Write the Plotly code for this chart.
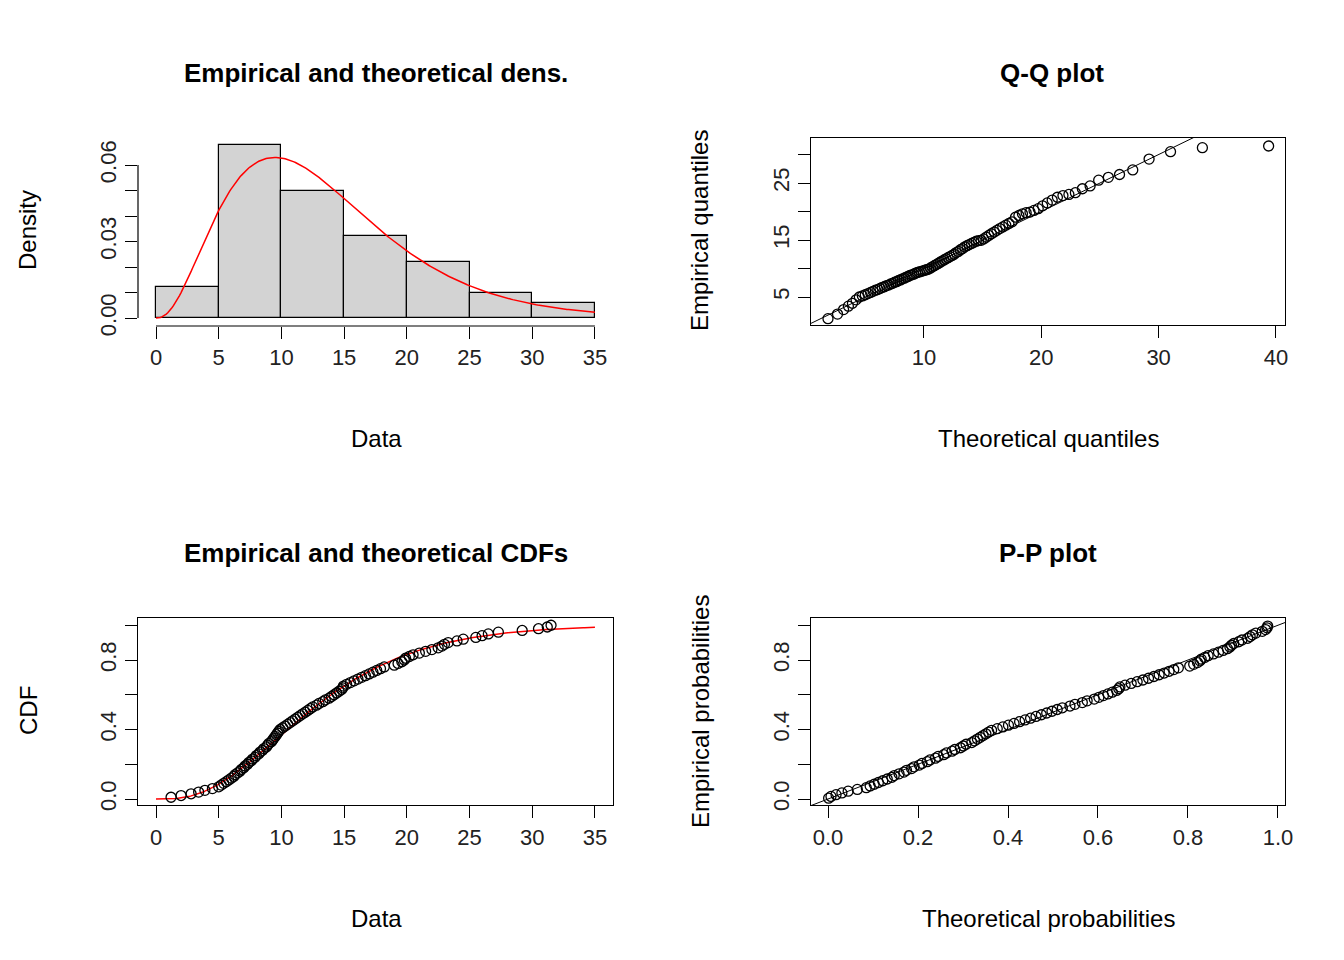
import math
import numpy as np
import plotly.graph_objects as go

# sorted sample (n = 100)
data = [1.2, 2.0, 2.8, 3.4, 3.9, 4.5,
        5.0, 5.2, 5.4, 5.6, 5.8, 6.0, 6.2, 6.3, 6.5, 6.7, 6.8, 7.0, 7.1, 7.3,
        7.4, 7.6, 7.7, 7.9, 8.0, 8.2, 8.3, 8.5, 8.6, 8.8, 8.9, 9.0, 9.2, 9.3,
        9.4, 9.5, 9.6, 9.7, 9.8, 9.9,
        10.1, 10.3, 10.5, 10.7, 10.9, 11.1, 11.3, 11.5, 11.7, 11.9, 12.1, 12.3,
        12.5, 12.8, 13.0, 13.3, 13.5, 13.8, 14.0, 14.2, 14.4, 14.6, 14.8, 14.9, 14.95,
        15.2, 15.5, 15.8, 16.1, 16.4, 16.7, 17.0, 17.3, 17.6, 17.9, 18.2, 19.0,
        19.3, 19.6, 19.8, 19.9,
        20.2, 20.5, 21.0, 21.5, 22.0, 22.5, 22.8, 23.0, 23.3, 24.0, 24.5,
        25.5, 26.0, 26.5, 27.3, 29.2,
        30.5, 31.2, 31.5]
bin_edges = [0, 5, 10, 15, 20, 25, 30, 35]
# fitted gamma parameters
shape = 3.4
scale = 3.95

def gpdf(x):
    if x <= 0:
        return 0.0
    return math.exp((shape - 1) * math.log(x) - x / scale - math.lgamma(shape) - shape * math.log(scale))

def gcdf(x):
    if x <= 0:
        return 0.0
    z = x / scale
    term = 1.0 / shape
    s = term
    k = 1
    while term > 1e-12 * s:
        term *= z / (shape + k)
        s += term
        k += 1
    return s * math.exp(-z + shape * math.log(z) - math.lgamma(shape))

def gq(p):
    lo, hi = 0.0, 200.0
    for _ in range(80):
        m = (lo + hi) / 2
        if gcdf(m) < p:
            lo = m
        else:
            hi = m
    return (lo + hi) / 2

n = len(data)
pp = [(i + 0.5) / n for i in range(n)]
counts, _ = np.histogram(data, bins=bin_edges)
dens = counts / (n * 5.0)
xs = np.linspace(0, 35, 300)

FONT = "Liberation Sans, Arial, sans-serif"
fig = go.Figure()
mk = dict(symbol="circle-open", size=10, color="black", line=dict(width=1.3))

# histogram
fig.add_trace(go.Bar(x=[(bin_edges[i] + bin_edges[i + 1]) / 2 for i in range(7)], y=dens,
                     width=5, marker=dict(color="#d3d3d3", line=dict(color="black", width=1.2)),
                     xaxis="x", yaxis="y"))
fig.add_trace(go.Scatter(x=xs, y=[gpdf(v) for v in xs], mode="lines",
                         line=dict(color="red", width=1.5), xaxis="x", yaxis="y"))
# QQ
tq = [gq(p) for p in pp]
fig.add_trace(go.Scatter(x=[0, 45], y=[0, 45], mode="lines", line=dict(color="black", width=1),
                         xaxis="x2", yaxis="y2"))
fig.add_trace(go.Scatter(x=tq, y=data, mode="markers", marker=mk, xaxis="x2", yaxis="y2"))
# CDF
fig.add_trace(go.Scatter(x=xs, y=[gcdf(v) for v in xs], mode="lines",
                         line=dict(color="red", width=1.5), xaxis="x3", yaxis="y3"))
fig.add_trace(go.Scatter(x=data, y=[(i + 1) / n for i in range(n)], mode="markers", marker=mk,
                         xaxis="x3", yaxis="y3"))
# PP
fig.add_trace(go.Scatter(x=[-0.1, 1.1], y=[-0.1, 1.1], mode="lines", line=dict(color="black", width=1),
                         xaxis="x4", yaxis="y4"))
fig.add_trace(go.Scatter(x=[gcdf(v) for v in data], y=pp, mode="markers", marker=mk,
                         xaxis="x4", yaxis="y4"))

W, H = 1344, 960
def dx(a, b):
    return [a / W, b / W]
def dy(top, bot):
    return [1 - bot / H, 1 - top / H]

ax = dict(ticks="outside", ticklen=12, tickwidth=1.2, tickcolor="black", showgrid=False,
          zeroline=False, automargin=False, tickfont=dict(size=22, color="#222"))
def xax(dom, rng, tv, tt, anchor, box):
    return dict(ax, domain=dom, range=rng, tickvals=tv, ticktext=tt, anchor=anchor, showline=box,
                linecolor="black", linewidth=1.2, mirror=box)
def yax(dom, rng, tv, tt, anchor, box):
    return dict(ax, domain=dom, range=rng, tickvals=tv, ticktext=tt, tickangle=-90, anchor=anchor,
                showline=box, linecolor="black", linewidth=1.2, mirror=box)

xt35 = list(range(0, 36, 5))
fig.update_layout(
    width=W, height=H, margin=dict(l=0, r=0, t=0, b=0), showlegend=False,
    paper_bgcolor="white", plot_bgcolor="white", bargap=0,
    font=dict(family=FONT, color="black"),
    xaxis=xax(dx(130, 605), [-1.435, 36.44], xt35, [str(v) for v in xt35], "y", False),
    yaxis=yax(dy(130, 318), [-0.0031, 0.0706], [0, 0.01, 0.02, 0.03, 0.04, 0.05, 0.06],
              ["0.00", "", "", "0.03", "", "", "0.06"], "x", False),
    xaxis2=xax(dx(803, 1277), [0.375, 40.77], [10, 20, 30, 40], ["10", "20", "30", "40"], "y2", True),
    yaxis2=yax(dy(130, 317), [0.09, 32.9], [5, 10, 15, 20, 25, 30],
               ["5", "", "15", "", "25", ""], "x2", True),
    xaxis3=xax(dx(130, 605), [-1.435, 36.44], xt35, [str(v) for v in xt35], "y3", True),
    yaxis3=yax(dy(610, 797), [-0.0345, 1.0417], [0, 0.2, 0.4, 0.6, 0.8, 1.0],
               ["0.0", "", "0.4", "", "0.8", ""], "x3", True),
    xaxis4=xax(dx(803, 1277), [-0.0378, 1.0156], [0, 0.2, 0.4, 0.6, 0.8, 1.0],
               ["0.0", "0.2", "0.4", "0.6", "0.8", "1.0"], "y4", True),
    yaxis4=yax(dy(610, 797), [-0.0345, 1.0417], [0, 0.2, 0.4, 0.6, 0.8, 1.0],
               ["0.0", "", "0.4", "", "0.8", ""], "x4", True),
)

# detached axis lines of the histogram panel
fig.add_shape(type="line", xref="x", yref="paper", x0=0, x1=35, y0=1 - 318 / H, y1=1 - 318 / H,
              line=dict(color="black", width=1.2))
fig.add_shape(type="line", xref="paper", yref="y", x0=130 / W, x1=130 / W, y0=0, y1=0.06,
              line=dict(color="black", width=1.2))

def txt(x, y, s, size=24, bold=False, angle=0):
    fig.add_annotation(x=x / W, y=1 - y / H, xref="paper", yref="paper",
                       xanchor="center", yanchor="middle",
                       text="<b>%s</b>" % s if bold else s,
                       showarrow=False, textangle=angle, font=dict(size=size, color="black"))

txt(368, 65, "Empirical and theoretical dens.", 26, True)
txt(1044, 65, "Q-Q plot", 26, True)
txt(368, 545, "Empirical and theoretical CDFs", 26, True)
txt(1040, 545, "P-P plot", 26, True)
txt(368, 430, "Data")
txt(1040, 430, "Theoretical quantiles")
txt(368, 910, "Data")
txt(1040, 910, "Theoretical probabilities")
txt(20, 222, "Density", angle=-90)
txt(692, 222, "Empirical quantiles", angle=-90)
txt(20, 703, "CDF", angle=-90)
txt(692, 703, "Empirical probabilities", angle=-90)

fig.write_html("out.html")
